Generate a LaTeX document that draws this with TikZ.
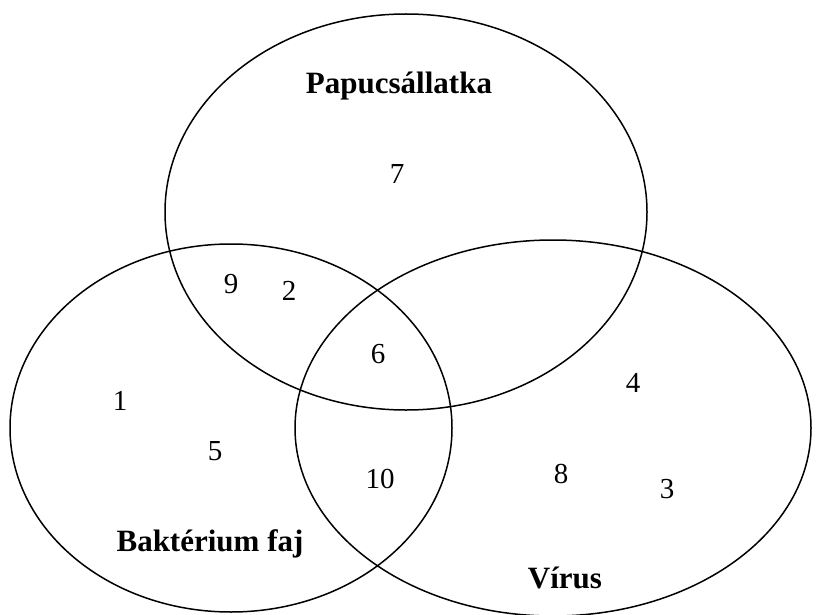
\documentclass[tikz,border=0pt]{standalone}
\usepackage{fontspec}
\setmainfont{Liberation Serif}
\usetikzlibrary{shapes.geometric,positioning}
\tikzset{
	venn set/.style={draw, ellipse, line width=1.5pt, inner sep=0pt, outer sep=0pt},
	set name/.style={font=\bfseries\fontsize{31}{33}\selectfont, anchor=base, inner sep=0pt},
	member/.style={font=\fontsize{29}{31}\selectfont, anchor=base, inner sep=0pt}
}

\begin{document}
\begin{tikzpicture}[x=1pt, y=-1pt]
	\useasboundingbox (0,0) rectangle (816,615);
	% the three sets
	\node[venn set, minimum width=482pt, minimum height=396pt] (Pap) at (406,212) {};
	\node[venn set, minimum width=442pt, minimum height=368pt] (Bak) at (231,428) {};
	\node[venn set, minimum width=516pt, minimum height=376pt] (Vir) at (553,428) {};
	% set names
	\node[set name] (PapName) at (399,94) {Papucsállatka};
	\node[set name] (BakName) at (210,551) {Baktérium faj};
	\node[set name] (VirName) at (565,588) {Vírus};
	% members
	\node[member] (m7) at (397,183) {7};
	\node[member] (m9) at (231,293) {9};
	\node[member] (m2) at (289,300) {2};
	\node[member] (m6) at (378,363) {6};
	\node[member] (m1) at (120,410) {1};
	\node[member] (m5) at (215,460) {5};
	\node[member] (m10) at (380,488) {10};
	\node[member] (m4) at (633,392) {4};
	\node[member] (m8) at (561,483) {8};
	\node[member] (m3) at (667,498) {3};
\end{tikzpicture}
\end{document}
